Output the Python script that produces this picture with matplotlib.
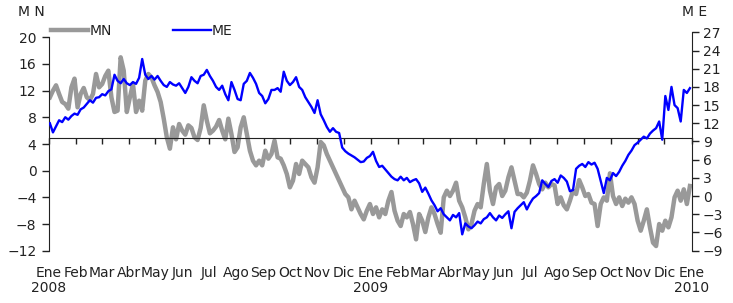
import pandas as pd
import matplotlib
matplotlib.use("Agg")
from matplotlib import pyplot as plt
import matplotlib.dates as mdates
import matplotlib.transforms as mtransforms
from matplotlib.ticker import FuncFormatter

# twice-weekly observations, Jan 2008 - Dec 2009
dates = pd.date_range("2008-01-02", periods=209, freq="84h")

# MN, left axis
mn = [11.0, 12.0, 12.8, 11.5, 10.3, 10.0, 9.3, 12.5, 13.8, 9.5,
      11.5, 12.4, 11.0, 10.6, 11.5, 14.5, 12.5, 13.0, 14.2, 15.0,
      11.0, 8.8, 9.0, 17.0, 15.0, 8.8, 11.0, 13.0, 8.8, 10.5,
      9.0, 13.5, 14.5, 14.0, 12.8, 11.8, 10.3, 7.8, 5.0, 3.3,
      6.5, 4.7, 7.0, 6.0, 5.4, 6.8, 6.4, 5.0, 4.6, 6.4,
      9.8, 7.5, 5.6, 6.0, 6.6, 7.6, 6.0, 4.7, 7.8, 5.5,
      2.8, 3.5, 6.5, 8.0, 5.5, 3.0, 1.5, 0.8, 1.5, 0.8,
      3.0, 1.8, 2.5, 4.5, 2.0, 1.8, 0.8, -0.5, -2.5, -1.5,
      1.0, -0.5, 1.5, 1.0, 0.5, -1.0, -1.8, 0.5, 4.3, 3.8,
      2.5, 1.5, 0.5, -0.5, -1.5, -2.5, -3.5, -4.0, -5.8, -4.5,
      -5.5, -6.5, -7.3, -6.0, -5.0, -6.5, -5.5, -7.0, -5.8, -6.5,
      -4.5, -3.2, -6.0, -7.5, -8.3, -6.5, -7.0, -6.2, -8.0, -10.3,
      -6.5, -7.5, -9.2, -7.0, -5.5, -6.5, -8.0, -9.3, -4.0, -3.0,
      -3.8, -3.0, -1.8, -4.5, -5.5, -7.0, -8.8, -8.0, -6.0, -5.0,
      -5.5, -2.0, 1.0, -3.0, -5.0, -2.5, -2.0, -3.8, -3.0, -1.0,
      0.5, -1.5, -3.5, -3.5, -4.0, -3.3, -1.5, 0.8, -0.5, -2.0,
      -2.8, -1.8, -2.5, -2.0, -2.2, -5.0, -4.0, -5.2, -5.8, -4.5,
      -3.0, -3.5, -1.4, -2.5, -3.8, -3.5, -4.8, -5.0, -8.3, -5.0,
      -4.0, -4.5, -0.4, -3.8, -5.0, -4.0, -5.3, -4.2, -4.8, -4.0,
      -5.0, -7.5, -9.0, -7.5, -5.8, -8.5, -10.8, -11.3, -8.0, -9.0,
      -7.5, -8.5, -7.0, -4.0, -3.0, -4.5, -2.8, -5.0, -2.3]

# ME, right axis
me = [12.0, 10.5, 11.5, 12.5, 12.2, 13.0, 12.6, 13.2, 13.6, 13.4,
      14.3, 14.6, 15.2, 15.8, 15.4, 16.2, 16.3, 16.8, 16.6, 17.3,
      17.6, 20.0, 19.0, 18.6, 19.3, 18.6, 18.3, 18.8, 18.5, 19.5,
      22.6, 20.0, 19.3, 19.8, 19.2, 19.8, 19.0, 18.3, 18.0, 18.8,
      18.4, 18.2, 18.6, 17.8, 17.0, 18.0, 19.6, 19.0, 18.6, 19.8,
      20.0, 20.8, 19.8, 19.0, 18.0, 17.5, 18.2, 16.8, 15.8, 18.8,
      17.5, 16.0, 15.8, 18.5, 19.0, 20.3, 19.5, 18.5, 17.0, 16.5,
      15.3, 16.0, 17.5, 17.5, 17.8, 17.2, 20.5, 19.0, 18.3, 18.8,
      19.6, 18.0, 17.5, 16.3, 15.5, 14.7, 13.7, 15.8, 13.5, 12.5,
      11.4, 10.6, 11.2, 10.6, 10.4, 8.0, 7.4, 7.0, 6.7, 6.4,
      6.0, 5.6, 5.7, 6.3, 6.6, 7.3, 5.8, 4.8, 5.0, 4.4,
      3.8, 3.2, 2.8, 2.6, 3.2, 2.6, 3.0, 2.3, 2.6, 2.8,
      2.1, 0.7, 1.4, 0.4, -0.7, -1.5, -2.5, -2.0, -3.0, -3.5,
      -4.0, -3.1, -3.5, -2.8, -6.3, -4.5, -5.0, -5.3, -4.8, -4.2,
      -4.5, -3.8, -3.5, -2.8, -3.5, -4.0, -3.2, -3.6, -3.0, -2.5,
      -5.3, -2.6, -2.0, -1.5, -1.0, -2.2, -1.2, -0.4, 0.0, 0.5,
      2.6, 2.0, 1.5, 2.5, 2.8, 2.2, 3.4, 3.0, 2.4, 0.8,
      1.0, 4.5, 5.0, 5.3, 4.8, 5.6, 5.2, 5.5, 4.5, 2.5,
      0.5, 3.0, 2.6, 3.8, 3.3, 4.0, 5.0, 5.8, 6.8, 7.5,
      8.4, 8.8, 9.3, 9.8, 9.5, 10.3, 10.8, 11.2, 12.3, 9.3,
      16.5, 14.2, 18.0, 15.0, 14.5, 12.3, 17.5, 17.0, 17.8]

months = ["Ene", "Feb", "Mar", "Abr", "May", "Jun", "Jul", "Ago",
          "Sep", "Oct", "Nov", "Dic"]
years = ["2008", "2009", "2010"]

TXT = "#222222"
GRAY = "#999999"
BLUE = "#0000ff"

plt.rcParams["font.family"] = "DejaVu Sans"
plt.rcParams["font.size"] = 10

fig = plt.figure(figsize=(7.33, 3.03), dpi=100)
ax = fig.add_axes([49 / 733, 1 - 250.7 / 303, 642.7 / 733, 218.4 / 303])
ax2 = ax.twinx()

ax.plot(dates, mn, color=GRAY, lw=3.2, solid_joinstyle="round")
ax2.plot(dates, me, color=BLUE, lw=1.7)

ax.set_xlim(pd.Timestamp("2008-01-01"), pd.Timestamp("2010-01-01"))
ax.set_ylim(-12, 20.75)
ax2.set_ylim(-9, 27)
ax.set_yticks(range(-12, 21, 4))
ax2.set_yticks(range(-9, 28, 3))

for a in (ax, ax2):
    a.spines["top"].set_visible(False)
    a.patch.set_visible(False)
ax2.spines["left"].set_visible(False)
ax2.spines["bottom"].set_visible(False)
ax.spines["right"].set_visible(False)
ax.spines["left"].set_bounds(-12, 20)

# category axis crossing the value axes
ax.spines["bottom"].set_position(("data", 4.85))
ax.xaxis.set_major_locator(mdates.MonthLocator())
ax.xaxis.set_major_formatter(
    FuncFormatter(lambda x, pos: months[mdates.num2date(x).month - 1]))
ax.tick_params(axis="x", direction="out", length=4, width=1, pad=88,
               colors=TXT, labelsize=10)
ax.tick_params(axis="y", direction="out", length=5, width=1, pad=4,
               colors=TXT, labelsize=10)
ax2.tick_params(axis="y", direction="out", length=5, width=1, pad=3,
                colors=TXT, labelsize=10)
for s in ("left", "bottom"):
    ax.spines[s].set_color(TXT)
ax2.spines["right"].set_color(TXT)

trans = mtransforms.blended_transform_factory(ax.transData, fig.transFigure)
for y in years:
    ax.text(pd.Timestamp(f"{y}-01-01"), 1 - 288 / 303, y, ha="center",
            va="center", color=TXT, fontsize=10, transform=trans)

fig.text(31 / 733, 1 - 12 / 303, "M N", ha="center", va="center",
         color=TXT, fontsize=10)
fig.text(695 / 733, 1 - 12 / 303, "M E", ha="center", va="center",
         color=TXT, fontsize=10)

h1, = ax.plot([], [], color=GRAY, lw=3.2)
h2, = ax.plot([], [], color=BLUE, lw=1.7)
fig.legend([h1, h2], ["MN", "ME"], loc="center left",
           bbox_to_anchor=(50.7 / 733, 1 - 31 / 303), ncol=2, frameon=False,
           borderpad=0, borderaxespad=0, handlelength=2.7, handletextpad=0.1,
           columnspacing=4.4, fontsize=10, labelcolor=TXT)

fig.savefig("out.png", dpi=100)
